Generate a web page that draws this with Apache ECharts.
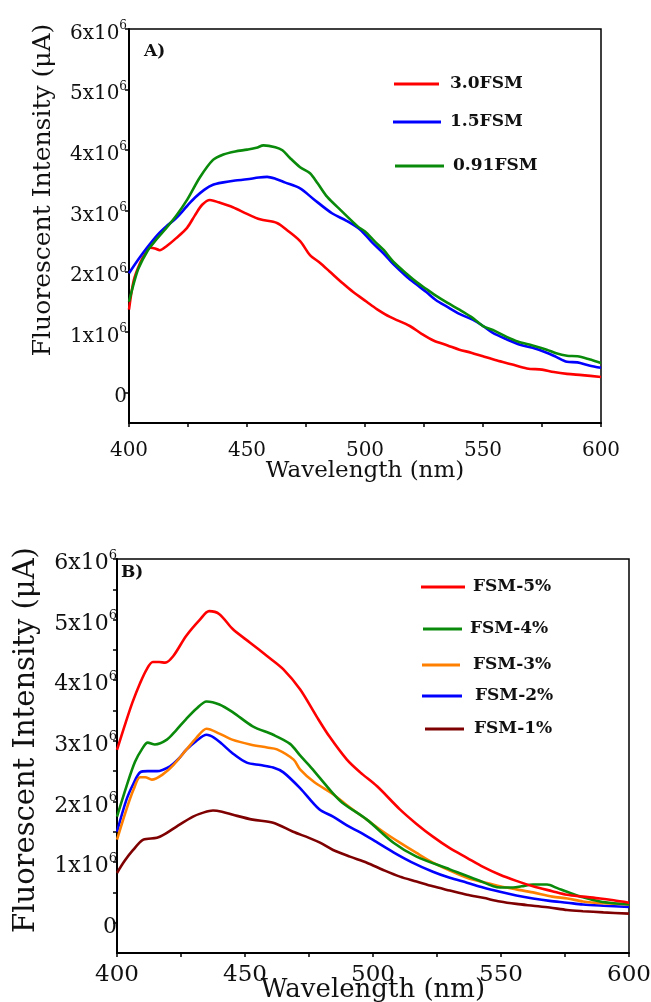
<!DOCTYPE html>
<html>
<head>
<meta charset="utf-8">
<script src="https://cdn.jsdelivr.net/npm/echarts@6/dist/echarts.min.js"></script>
<style>
html,body{margin:0;padding:0;background:#fff;}
#chart{width:651px;height:1002px;}
</style>
</head>
<body>
<div id="chart"></div>
<script>
// ---------- Panel A (values in units of 10^6) ----------
const aNames = ['3.0FSM', '1.5FSM', '0.91FSM'];
const a30X = [400,402,404.7,407,409,411,413,416,420,424.6,428,431,434.3,438,444,450,455.5,462.7,467,472.5,476.7,481,485,490.7,495,500.7,505,510.6,519,524,529,535,540,545,550,556,562,568.6,575,580,585.6,592,600];
const a30Y = [1.37,1.85,2.14,2.3,2.39,2.38,2.35,2.42,2.55,2.72,2.93,3.1,3.18,3.14,3.06,2.95,2.86,2.8,2.68,2.5,2.27,2.14,2.0,1.8,1.66,1.5,1.38,1.25,1.1,0.97,0.86,0.78,0.71,0.66,0.6,0.53,0.47,0.4,0.38,0.34,0.31,0.29,0.26];
const a15X = [400,404,407.6,412,416,420,424.6,428,432,435.6,440,445,450,455,458.5,462,466,472.5,478,486,492,498,503,507.8,512,517.8,522,526,530,534.7,540,545.8,550,554,560,565.7,571,577,581,585.6,590,595,600];
const a15Y = [1.97,2.2,2.39,2.6,2.75,2.88,3.08,3.22,3.35,3.43,3.47,3.5,3.52,3.55,3.56,3.53,3.47,3.37,3.2,2.96,2.84,2.69,2.48,2.3,2.12,1.91,1.78,1.66,1.53,1.42,1.3,1.2,1.1,0.99,0.88,0.79,0.74,0.66,0.59,0.51,0.5,0.45,0.41];
const a091X = [400,402,404,408,411,415,420,424.6,430,435.6,440,445,450,454,457,462,465,468,472.5,476.7,480,484,490,497,500,504,508,512,518,522,526,530,535,540,545,550,555,560,565,571,577,581,585.6,590,595,600];
const a091Y = [1.5,1.8,2.05,2.35,2.5,2.68,2.92,3.18,3.55,3.84,3.93,3.98,4.01,4.04,4.08,4.05,4.0,3.88,3.72,3.62,3.45,3.23,3.0,2.74,2.66,2.5,2.35,2.16,1.95,1.82,1.71,1.6,1.48,1.37,1.25,1.1,1.02,0.92,0.84,0.78,0.71,0.65,0.61,0.6,0.55,0.49];

// ---------- Panel B (values in units of 10^6) ----------
const bNames = ['FSM-5%', 'FSM-4%', 'FSM-3%', 'FSM-2%', 'FSM-1%'];
const b5X = [400,403,406,409,411.6,414,416.5,418.8,422,427,432.4,436,440,445.3,452,458.6,465,471.5,478,483,489.8,495,501.6,510.5,517,523.4,530,536.7,543,549.6,556,562.5,570,575.8,582,588.7,594,600];
const b5Y = [2.85,3.25,3.63,3.95,4.18,4.3,4.3,4.29,4.4,4.73,5.0,5.14,5.09,4.84,4.62,4.4,4.18,3.85,3.4,3.07,2.69,2.48,2.25,1.87,1.63,1.42,1.23,1.07,0.92,0.79,0.69,0.6,0.52,0.46,0.43,0.4,0.37,0.33];
const b4X = [400,403.7,407,410,412,414.8,419.5,423,427,431,435,440,445.3,453,461,467.6,471.5,476,484,488,497.6,508,517,530,540.6,549.6,554.7,558,562.5,568,572,575.8,582,588.7,594,600];
const b4Y = [1.75,2.25,2.65,2.88,2.97,2.94,3.02,3.17,3.36,3.53,3.65,3.6,3.47,3.24,3.1,2.95,2.76,2.55,2.15,1.98,1.7,1.32,1.09,0.88,0.71,0.58,0.58,0.6,0.63,0.63,0.57,0.51,0.42,0.35,0.32,0.3];
const b3X = [400,403.7,406.5,409,411,413.6,418,422,427,431,435,440,445,452,458.6,462.5,469,471.5,477,484.4,491,497.6,504,510.5,517,523.4,530,536.7,543,549.6,556,562.5,570,576,582,590,600];
const b3Y = [1.37,1.87,2.2,2.4,2.4,2.36,2.45,2.6,2.85,3.05,3.2,3.12,3.02,2.94,2.89,2.86,2.69,2.53,2.32,2.12,1.9,1.7,1.5,1.32,1.15,0.99,0.86,0.74,0.67,0.6,0.55,0.5,0.43,0.4,0.35,0.32,0.3];
const b2X = [400,403.7,406.5,409,412,415.6,420.7,424,427,431,435,438,441,445,450.7,456,461,465,471.5,479,484.4,490,495,501,508,515,523.4,530,536.7,543,549.6,556,562.5,569,575.8,582,590,600];
const b2Y = [1.5,2.03,2.3,2.48,2.5,2.5,2.58,2.7,2.85,3.0,3.1,3.05,2.95,2.8,2.64,2.6,2.56,2.48,2.22,1.87,1.75,1.6,1.49,1.34,1.16,1.0,0.84,0.74,0.66,0.58,0.51,0.45,0.4,0.36,0.33,0.3,0.28,0.26];
const b1X = [400,403,406.3,410.3,415.6,419,423.4,429.7,434,437.5,441,445.3,453,461,468.8,475,479.3,484.4,491,497.6,504,510.5,517,523.4,530,536.7,543,549.6,556,562.5,569,575.8,582,590,600];
const b1Y = [0.82,1.02,1.2,1.37,1.4,1.47,1.59,1.75,1.82,1.85,1.83,1.78,1.7,1.65,1.5,1.4,1.32,1.2,1.09,0.99,0.87,0.76,0.68,0.6,0.53,0.46,0.41,0.35,0.31,0.28,0.25,0.21,0.19,0.17,0.15];

// ---------- Ticks ----------
const xTicks = [400, 450, 500, 550, 600];
const yLabelValues = [0, 1, 2, 3, 4, 5, 6];
const yTicksB = [0, 0.5, 1, 1.5, 2, 2.5, 3, 3.5, 4, 4.5, 5, 5.5, 6];

const SERIF = '"DejaVu Serif", "Liberation Serif", serif';
const pair = (xs, ys) => xs.map((x, i) => [x, ys[i]]);
const yFmt = v => v === 0 ? '{a|0}' : '{a|' + v + 'x10}{s|6}';

function xAxisCfg(gi, fs, margin, nameFs, nameGap) {
  return {
    type: 'value', gridIndex: gi, min: 400, max: 600, interval: 50,
    name: 'Wavelength (nm)', nameLocation: 'middle', nameGap: nameGap, nameMoveOverlap: false,
    nameTextStyle: { fontFamily: SERIF, fontSize: nameFs, color: '#111' },
    axisLine: { show: true, onZero: false, lineStyle: { color: '#000', width: 2 } },
    axisTick: { show: true, inside: false, length: 4, lineStyle: { color: '#000', width: 1.5 } },
    minorTick: { show: true, splitNumber: 2, length: 4, lineStyle: { color: '#000', width: 1.5 } },
    axisLabel: { fontFamily: SERIF, fontSize: fs, color: '#111', margin: margin, customValues: xTicks },
    splitLine: { show: false }
  };
}
function yAxisCfg(gi, fs, sfs, margin, ticks, nameFs, nameGap, namePad) {
  return {
    type: 'value', gridIndex: gi, min: -0.5, max: 6,
    name: 'Fluorescent Intensity (\u03bcA)', nameLocation: 'middle', nameGap: nameGap, nameMoveOverlap: false,
    nameTextStyle: { fontFamily: SERIF, fontSize: nameFs, color: '#111', padding: namePad },
    axisLine: { show: true, onZero: false, lineStyle: { color: '#000', width: 2 } },
    axisTick: { show: true, inside: false, length: 4, customValues: ticks, lineStyle: { color: '#000', width: 1.5 } },
    axisLabel: {
      fontFamily: SERIF, color: '#111', margin: margin, customValues: yLabelValues,
      formatter: yFmt, padding: [9, 0, 0, 0],
      rich: {
        a: { fontFamily: SERIF, fontSize: fs, color: '#111' },
        s: { fontFamily: SERIF, fontSize: sfs, color: '#111', padding: [0, 0, fs * 0.75, 0] }
      }
    },
    splitLine: { show: false }
  };
}
function legendCfg(name, left, cy, w, gap) {
  return {
    data: [name], left: left, top: cy - 10, padding: 0, icon: 'rect',
    itemWidth: w, itemHeight: 3, selectedMode: false,
    textStyle: { fontFamily: SERIF, fontSize: 17, fontWeight: 'bold', color: '#111', lineHeight: 20, padding: [0, 0, 0, gap - 5] }
  };
}
function lineSeries(name, color, xi, xs, ys) {
  return {
    name: name, type: 'line', xAxisIndex: xi, yAxisIndex: xi, data: pair(xs, ys),
    showSymbol: false, smooth: 0.3, color: color,
    lineStyle: { color: color, width: 2.6 }, emphasis: { disabled: true }
  };
}

const chart = echarts.init(document.getElementById('chart'), null, { renderer: 'canvas' });
chart.setOption({
  backgroundColor: '#fff',
  animation: false,
  title: [
    { text: 'A)', left: 144, top: 43, textStyle: { fontFamily: SERIF, fontSize: 17, fontWeight: 'bold', color: '#111' }, padding: 0 },
    { text: 'B)', left: 121, top: 564, textStyle: { fontFamily: SERIF, fontSize: 17, fontWeight: 'bold', color: '#111' }, padding: 0 }
  ],
  grid: [
    { left: 129, top: 29, width: 472, height: 394, show: true, borderColor: '#000', borderWidth: 1.5, backgroundColor: 'transparent', outerBoundsMode: 'none', containLabel: false },
    { left: 117, top: 559, width: 512, height: 394, show: true, borderColor: '#000', borderWidth: 1.5, backgroundColor: 'transparent', outerBoundsMode: 'none', containLabel: false }
  ],
  xAxis: [ xAxisCfg(0, 20, 18, 23, 37), xAxisCfg(1, 23, 11, 26, 24) ],
  yAxis: [
    yAxisCfg(0, 20, 12, 2, yLabelValues, 25, 73, [0, 0, 0, 72]),
    yAxisCfg(1, 22, 13, 0, yTicksB, 29, 76, [0, 0, 0, 32])
  ],
  legend: [
    legendCfg(aNames[0], 394, 84, 45, 11),
    legendCfg(aNames[1], 393, 122, 48, 9),
    legendCfg(aNames[2], 395, 166, 49, 9),
    legendCfg(bNames[0], 421, 587, 44, 8),
    legendCfg(bNames[1], 423, 629, 39, 8),
    legendCfg(bNames[2], 422, 665, 38, 13),
    legendCfg(bNames[3], 422, 696, 40, 13),
    legendCfg(bNames[4], 425, 729, 39, 10)
  ],
  series: [
    lineSeries(aNames[0], '#ff0000', 0, a30X, a30Y),
    lineSeries(aNames[1], '#0000ff', 0, a15X, a15Y),
    lineSeries(aNames[2], '#0a8a0a', 0, a091X, a091Y),
    lineSeries(bNames[4], '#7f0000', 1, b1X, b1Y),
    lineSeries(bNames[3], '#0000ff', 1, b2X, b2Y),
    lineSeries(bNames[2], '#ff8000', 1, b3X, b3Y),
    lineSeries(bNames[1], '#0a8a0a', 1, b4X, b4Y),
    lineSeries(bNames[0], '#ff0000', 1, b5X, b5Y)
  ]
});
</script>
</body>
</html>
